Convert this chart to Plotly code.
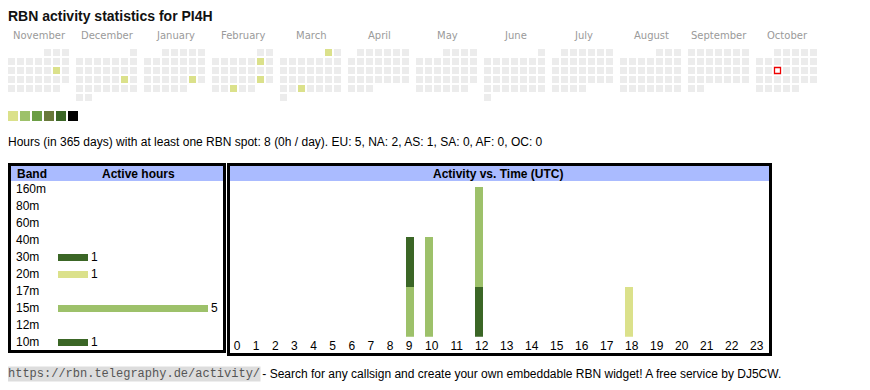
import calendar
import datetime as dt
import plotly.graph_objects as go

# page is rendered with an 8px body margin: work in page pixels, convert to figure space
OFF = 8
FW, FH = 854, 374

# ---------------- data ----------------
title_text = "RBN activity statistics for PI4H"
months = ["November", "December", "January", "February", "March", "April",
          "May", "June", "July", "August", "September", "October"]
start_year, start_month = 2024, 11
active_dates = ["2024-11-16", "2024-12-21", "2025-01-25", "2025-02-08",
                "2025-02-22", "2025-02-26", "2025-03-01", "2025-03-26"]
active_levels = [1, 1, 1, 1, 1, 1, 1, 1]
today = "2025-10-15"
level_names = [1, 2, 3, 4, 5, 6]
stats_text = ("Hours (in 365 days) with at least one RBN spot: 8 (0h / day). "
              "EU: 5, NA: 2, AS: 1, SA: 0, AF: 0, OC: 0")

bands = ["160m", "80m", "60m", "40m", "30m", "20m", "17m", "15m", "12m", "10m"]
band_hours = [0, 0, 0, 0, 1, 1, 0, 5, 0, 1]

hours = list(range(24))
act_30m = [0, 0, 0, 0, 0, 0, 0, 0, 0, 0, 0, 0, 1, 0, 0, 0, 0, 0, 0, 0, 0, 0, 0, 0]
act_20m = [0, 0, 0, 0, 0, 0, 0, 0, 0, 0, 0, 0, 0, 0, 0, 0, 0, 0, 1, 0, 0, 0, 0, 0]
act_15m = [0, 0, 0, 0, 0, 0, 0, 0, 0, 1, 2, 0, 2, 0, 0, 0, 0, 0, 0, 0, 0, 0, 0, 0]
act_10m = [0, 0, 0, 0, 0, 0, 0, 0, 0, 1, 0, 0, 0, 0, 0, 0, 0, 0, 0, 0, 0, 0, 0, 0]
activity_series = [("30m", act_30m), ("20m", act_20m), ("15m", act_15m), ("10m", act_10m)]

footer_url = "https://rbn.telegraphy.de/activity/"
footer_text = " - Search for any callsign and create your own embeddable RBN widget! A free service by DJ5CW."

# ---------------- styles ----------------
SANS = "Liberation Sans, Arial, sans-serif"
level_colors = ["#dbe18b", "#9dc16a", "#6b9e45", "#68793a", "#3b6626", "#000000"]
empty_color = "#ececec"
band_colors = {"160m": "#3b6626", "80m": "#3b6626", "60m": "#3b6626", "40m": "#3b6626",
               "30m": "#3b6626", "20m": "#dbe18b", "17m": "#9dc16a", "15m": "#9dc16a",
               "12m": "#9dc16a", "10m": "#3b6626"}
header_bg = "#aabbff"
PADX = -2  # compensates plotly annotation inner padding


def fx(p):
    """page x pixel -> paper fraction"""
    return (p - OFF) / FW


def fy(p):
    """page y pixel -> paper fraction"""
    return 1 - (p - OFF) / FH


fig = go.Figure()

# ---------------- calendar heatmap ----------------
level_of = {dt.date.fromisoformat(d): l for d, l in zip(active_dates, active_levels)}
today_d = dt.date.fromisoformat(today)
cx, cy, cc, cd = [], [], [], []
tx, ty = [], []
y_, m_ = start_year, start_month
month_label_x = []
for i in range(len(months)):
    bx = 8 + 68 * i
    month_label_x.append(bx + 30.5)
    first_wd, ndays = calendar.monthrange(y_, m_)
    for d in range(1, ndays + 1):
        date = dt.date(y_, m_, d)
        wd = date.weekday()
        row = (first_wd + d - 1) // 7
        x = bx + 9 * wd + 3.5
        yy = 49 + 9 * row + 3.5
        cx.append(x)
        cy.append(yy)
        lv = level_of.get(date, 0)
        cc.append(level_colors[lv - 1] if lv else empty_color)
        cd.append(date.isoformat())
        if date == today_d:
            tx.append(x)
            ty.append(yy)
    m_ += 1
    if m_ > 12:
        m_ = 1
        y_ += 1

fig.add_trace(go.Scatter(x=cx, y=cy, mode="markers", xaxis="x", yaxis="y",
                         marker=dict(symbol="square", size=7, color=cc, line=dict(width=0)),
                         text=cd, hoverinfo="text", showlegend=False))
fig.add_trace(go.Scatter(x=tx, y=ty, mode="markers", xaxis="x", yaxis="y",
                         marker=dict(symbol="square", size=6, color="white",
                                     line=dict(width=1.3, color="#ee0000")),
                         hoverinfo="skip", showlegend=False))
# level legend swatches
fig.add_trace(go.Scatter(x=[13 + 12 * i for i in range(len(level_names))],
                         y=[116] * len(level_names), mode="markers", xaxis="x", yaxis="y",
                         marker=dict(symbol="square", size=10, color=level_colors, line=dict(width=0)),
                         hoverinfo="skip", showlegend=False))

# ---------------- band bars ----------------
fig.add_trace(go.Bar(x=band_hours, y=bands, orientation="h", xaxis="x2", yaxis="y2",
                     marker=dict(color=[band_colors[b] for b in bands], line=dict(width=0)),
                     width=0.4, text=[str(v) if v else "" for v in band_hours],
                     textposition="outside", cliponaxis=False, constraintext="none",
                     textfont=dict(family=SANS, size=12, color="#000"),
                     showlegend=False, hoverinfo="x+y"))

# ---------------- activity vs time ----------------
col_width = {1: 19.13, 2: 25.0}
label_left = []
pos = 233.7
for h in hours:
    label_left.append(pos)
    pos += col_width[len(str(h))]
label_center = [l + 3.34 * len(str(h)) for l, h in zip(label_left, hours)]
bar_center = [l + 4 for l in label_left]

for band, vals in activity_series:
    fig.add_trace(go.Bar(x=bar_center, y=vals, width=8, xaxis="x3", yaxis="y3",
                         marker=dict(color=band_colors[band], line=dict(width=0)),
                         name=band, showlegend=False,
                         hovertemplate=band + ": %{y}<extra></extra>"))

# ---------------- shapes ----------------
shapes = [
    dict(type="rect", xref="x", yref="y", x0=10, x1=224.5, y0=165, y1=181,
         fillcolor=header_bg, line=dict(width=0), layer="below"),
    dict(type="rect", xref="x", yref="y", x0=229, x1=770, y0=165, y1=181,
         fillcolor=header_bg, line=dict(width=0), layer="below"),
    dict(type="rect", xref="x", yref="y", x0=9.5, x1=224.5, y0=164.5, y1=351.5,
         line=dict(width=3, color="#000"), fillcolor="rgba(0,0,0,0)", layer="above"),
    dict(type="rect", xref="x", yref="y", x0=228.5, x1=770.5, y0=164.5, y1=354.5,
         line=dict(width=3, color="#000"), fillcolor="rgba(0,0,0,0)", layer="above"),
]

# ---------------- annotations ----------------
ann = []
ann.append(dict(text="<b>" + title_text + "</b>", x=8, xshift=PADX, y=16, xref="x", yref="y",
                xanchor="left", yanchor="middle", showarrow=False,
                font=dict(family=SANS, size=14, color="#111")))
for name, mx in zip(months, month_label_x):
    ann.append(dict(text=name, x=mx + 0.5, y=35, xref="x", yref="y", xanchor="center",
                    yanchor="middle", showarrow=False,
                    font=dict(family="DejaVu Sans, Verdana, sans-serif", size=10, color="#9a9a9a")))
ann.append(dict(text=stats_text, x=8, xshift=PADX, y=142, xref="x", yref="y", xanchor="left",
                yanchor="middle", showarrow=False, font=dict(family=SANS, size=12, color="#000")))
ann.append(dict(text="<b>Band</b>", x=16.7, xshift=PADX, y=173.5, xref="x", yref="y", xanchor="left",
                yanchor="middle", showarrow=False, font=dict(family=SANS, size=12, color="#000")))
ann.append(dict(text="<b>Active hours</b>", x=138, y=173.5, xref="x", yref="y", xanchor="center",
                yanchor="middle", showarrow=False, font=dict(family=SANS, size=12, color="#000")))
ann.append(dict(text="<b>Activity vs. Time (UTC)</b>", x=498, y=173.5, xref="x", yref="y",
                xanchor="center", yanchor="middle", showarrow=False,
                font=dict(family=SANS, size=12, color="#000")))
for i, b in enumerate(bands):
    ann.append(dict(text=b, x=16, xshift=PADX, y=i, xref="x", yref="y2", xanchor="left",
                    yanchor="middle", showarrow=False, font=dict(family=SANS, size=12, color="#000")))
ann.append(dict(text=footer_url, x=8, y=374, xref="x", yref="y", xanchor="left", yanchor="middle",
                showarrow=False, bgcolor="#dddddd", borderpad=0, xshift=-1,
                font=dict(family="Liberation Mono, Courier New, monospace", size=12, color="#555")))
ann.append(dict(text=footer_text, x=259, xshift=PADX, y=374, xref="x", yref="y", xanchor="left",
                yanchor="middle", showarrow=False, font=dict(family=SANS, size=12, color="#000")))

fig.update_layout(
    width=FW, height=FH, margin=dict(l=0, r=0, t=0, b=0),
    paper_bgcolor="white", plot_bgcolor="rgba(0,0,0,0)",
    barmode="stack", bargap=0, showlegend=False,
    font=dict(family=SANS, size=12, color="#000"),
    xaxis=dict(domain=[0, 1], range=[OFF, OFF + FW], visible=False, fixedrange=True),
    yaxis=dict(domain=[0, 1], range=[OFF + FH, OFF], visible=False, fixedrange=True),
    xaxis2=dict(domain=[fx(58), fx(223)], range=[0, 5.5], visible=False, anchor="y2", fixedrange=True),
    yaxis2=dict(domain=[fy(350.8), fy(180.8)], type="category", categoryorder="array",
                categoryarray=bands, range=[9.5, -0.5], visible=False, anchor="x2", fixedrange=True),
    xaxis3=dict(domain=[fx(230), fx(769)], range=[230, 769], anchor="y3",
                tickmode="array", tickvals=label_center, ticktext=[str(h) for h in hours],
                showgrid=False, zeroline=False, showline=False, ticks="",
                tickfont=dict(family=SANS, size=12, color="#000"), fixedrange=True),
    yaxis3=dict(domain=[fy(336.7), fy(181)], range=[0, (336.7 - 181) / 50], visible=False,
                anchor="x3", fixedrange=True),
    shapes=shapes, annotations=ann,
)

fig.write_html("out.html")
